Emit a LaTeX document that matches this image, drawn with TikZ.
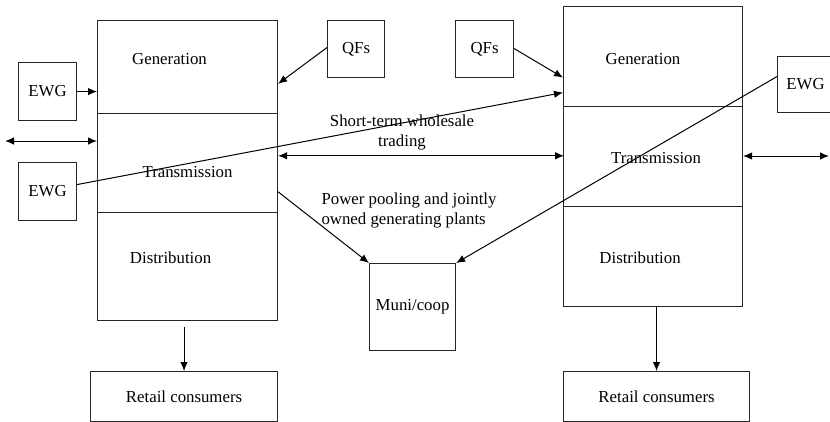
\documentclass[tikz,border=0pt]{standalone}
\usepackage{fontspec}
\setmainfont{Liberation Serif}
\usetikzlibrary{arrows.meta,calc}
\begin{document}
\begin{tikzpicture}[x=1pt,y=-1pt,
  every node/.style={font=\fontsize{16.8}{20}\selectfont},
  sect/.style={draw=black!85,line width=1.1pt,inner sep=0pt,anchor=north west},
  box/.style={draw=black!85,line width=1.1pt,inner sep=0pt,anchor=north west},
  conn/.style={line width=1pt,-{Latex[length=9pt,width=7.5pt]}},
  dconn/.style={line width=1pt,{Latex[length=9pt,width=7.5pt]}-{Latex[length=9pt,width=7.5pt]}}]
\useasboundingbox (0,0) rectangle (830,421);

% left utility: three stacked sections
\node[sect,minimum width=180pt,minimum height=92.5pt] (lgen) at (97,20) {};
\node[sect,minimum width=180pt,minimum height=99.5pt] (ltrans) at (97,112.5) {};
\node[sect,minimum width=180pt,minimum height=108pt] (ldist) at (97,212) {};
\node at ([xshift=-18pt,yshift=8pt]lgen.center) {Generation};
\node at ([yshift=-9pt]ltrans.center) {Transmission};
\node at ([xshift=-17pt,yshift=9pt]ldist.center) {Distribution};

% right utility: three stacked sections
\node[sect,minimum width=179pt,minimum height=100pt] (rgen) at (563,6) {};
\node[sect,minimum width=179pt,minimum height=100pt] (rtrans) at (563,106) {};
\node[sect,minimum width=179pt,minimum height=100pt] (rdist) at (563,206) {};
\node at ([xshift=-10pt,yshift=-2pt]rgen.center) {Generation};
\node at ([xshift=3pt,yshift=-1pt]rtrans.center) {Transmission};
\node at ([xshift=-13pt,yshift=-1pt]rdist.center) {Distribution};

% small boxes
\node[box,minimum width=58pt,minimum height=58pt] (ewga) at (18,62) {EWG};
\node[box,minimum width=58pt,minimum height=58pt] (ewgb) at (18,162) {EWG};
\node[box,minimum width=57pt,minimum height=57pt] (qfa) at (327,20) {QFs};
\node[box,minimum width=58pt,minimum height=57pt] (qfb) at (455,20) {QFs};
\node[box,minimum width=58pt,minimum height=56pt] (ewgc) at (777,56) {\hspace*{-2pt}EWG};
\node[box,minimum width=86pt,minimum height=87pt] (muni) at (369,263) {Muni/coop};
\node[box,minimum width=187pt,minimum height=50pt] (lret) at (90,371) {Retail consumers};
\node[box,minimum width=186pt,minimum height=50pt] (rret) at (563,371) {Retail consumers};

% labels between the utilities
\node[align=center] (stw) at (402,132) {Short-term wholesale\\trading};
\node[align=left,anchor=west] (pool) at (318,210) {Power pooling and jointly\\owned generating plants};

% free ends of the external trade arrows
\coordinate (lout) at (5,141);
\coordinate (rout) at (829,156);

% connectors
\draw[conn] (ewga.east) -- (ewga.east -| lgen.west);
\draw[dconn] (lout) -- (lout -| ltrans.west);
\draw[conn] ([yshift=7pt]ewgb.east) -- ($(rgen.west)+(0,36)$);
\draw[conn] ([yshift=1.5pt]qfa.west) -- ($(lgen.east)+(0,17)$);
\draw[conn] ([yshift=0.5pt]qfb.east) -- ($(rgen.west)+(0,21)$);
\draw[dconn] ($(ltrans.east)+(0,-7)$) -- ($(ltrans.east)+(286,-7)$);
\draw[conn] ($(ltrans.east)+(0,29)$) -- (muni.north west);
\draw[conn] ([yshift=8pt]ewgc.west) -- (muni.north east);
\draw[dconn] (rout) -- (rout -| rtrans.east);
\draw[conn] ($(lret.north)+(0,-44)$) -- (lret.north);
\draw[conn] (rdist.south -| rret.north) -- (rret.north);
\end{tikzpicture}
\end{document}
